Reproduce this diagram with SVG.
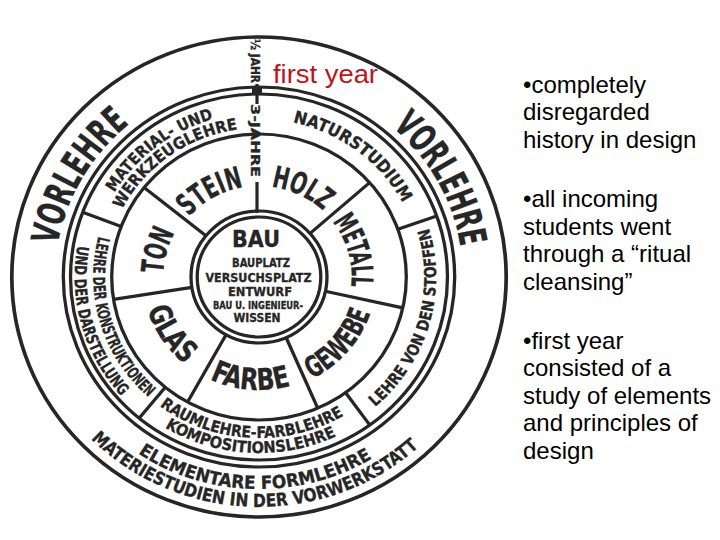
<svg xmlns="http://www.w3.org/2000/svg" width="720" height="540" viewBox="0 0 720 540">
<style>
.ln{fill:none;stroke:#262626;stroke-width:3.2}
.w{font-family:"DejaVu Sans Condensed","DejaVu Sans",sans-serif;font-weight:bold;fill:#262626;stroke:#262626;stroke-width:0.3;text-anchor:middle}
.big{font-size:37px}
.ws{font-size:30px}
.sm{font-size:16px}
.md{font-size:18px}
.note{font-family:"Liberation Sans",Arial,sans-serif;font-size:24px;fill:#000}
</style>
<defs>
<path id="t198" d="M -198 0 A 198 198 0 0 1 198 0"/>
<path id="t164" d="M -164 0 A 164 164 0 0 1 164 0"/>
<path id="t149" d="M -149 0 A 149 149 0 0 1 149 0"/>
<path id="t158" d="M -158 0 A 158 158 0 0 1 158 0"/>
<path id="t91" d="M -91 0 A 91 91 0 0 1 91 0"/>
<path id="t90" d="M -90 0 A 90 90 0 0 1 90 0"/>
<path id="t93" d="M -93 0 A 93 93 0 0 1 93 0"/>
<path id="b230" d="M -230 0 A 230 230 0 0 0 230 0"/>
<path id="b212" d="M -212 0 A 212 212 0 0 0 212 0"/>
<path id="b179" d="M -179 0 A 179 179 0 0 0 179 0"/>
<path id="b161" d="M -161 0 A 161 161 0 0 0 161 0"/>
<path id="b172" d="M -172 0 A 172 172 0 0 0 172 0"/>
<path id="b176" d="M -176 0 A 176 176 0 0 0 176 0"/>
<path id="b114" d="M -114 0 A 114 114 0 0 0 114 0"/>
<path id="b113" d="M -113 0 A 113 113 0 0 0 113 0"/>
</defs>
<rect width="720" height="540" fill="#fff"/>
<g id="wheel" transform="translate(259,277) scale(1.03,1)">
  <g id="rings">
    <circle class="ln" r="240" style="stroke-width:3.6"/>
    <circle class="ln" r="190"/>
    <circle class="ln" r="183"/>
    <circle class="ln" r="143"/>
    <circle class="ln" r="66"/>
    <circle class="ln" r="60"/>
  </g>
  <g id="connectors" class="ln">
    <line x1="-133.8" y1="-50.5" x2="-171.2" y2="-64.7"/>
    <line x1="134.8" y1="-47.7" x2="172.5" y2="-61.1"/>
    <line x1="-91.0" y1="110.3" x2="-116.4" y2="141.2"/>
    <line x1="84.1" y1="115.7" x2="107.6" y2="148.1"/>
    <line x1="-51.5" y1="-41.3" x2="-111.6" y2="-89.4"/>
    <line x1="-65.2" y1="10.3" x2="-141.2" y2="22.4"/>
    <line x1="-32.0" y1="57.7" x2="-69.3" y2="125.1"/>
    <line x1="26.3" y1="60.5" x2="57.0" y2="131.1"/>
    <line x1="64.4" y1="14.3" x2="139.6" y2="30.9"/>
    <line x1="49.6" y1="-43.6" x2="107.4" y2="-94.4"/>
  </g>
  <g id="vorlehre">
    <text class="w big" transform="rotate(300)"><textPath href="#t198" startOffset="50%" textLength="143" lengthAdjust="spacingAndGlyphs">VORLEHRE</textPath></text>
    <text class="w big" transform="rotate(61)"><textPath href="#t198" startOffset="50%" textLength="140" lengthAdjust="spacingAndGlyphs">VORLEHRE</textPath></text>
    <text class="w md" transform="rotate(1.2)"><textPath href="#b212" startOffset="50%" textLength="240" lengthAdjust="spacingAndGlyphs">ELEMENTARE FORMLEHRE</textPath></text>
    <text class="w md" transform="rotate(1.4)"><textPath href="#b230" startOffset="50%" textLength="352" lengthAdjust="spacingAndGlyphs">MATERIESTUDIEN IN DER VORWERKSTATT</textPath></text>
  </g>
  <g id="material">
    <text class="w sm" transform="rotate(322.7)"><textPath href="#t164" startOffset="50%" textLength="124" lengthAdjust="spacingAndGlyphs">MATERIAL- UND</textPath></text>
    <text class="w sm" transform="rotate(324.5)"><textPath href="#t149" startOffset="50%" textLength="143" lengthAdjust="spacingAndGlyphs">WERKZEUGLEHRE</textPath></text>
  </g>
  <g id="natur">
    <text class="w" style="font-size:17px" transform="rotate(37)"><textPath href="#t158" startOffset="50%" textLength="138" lengthAdjust="spacingAndGlyphs">NATURSTUDIUM</textPath></text>
  </g>
  <g id="konstruktion">
    <text class="w sm" transform="rotate(74.2)"><textPath href="#b179" startOffset="50%" textLength="162" lengthAdjust="spacingAndGlyphs">UND DER DARSTELLUNG</textPath></text>
    <text class="w sm" transform="rotate(73.2)"><textPath href="#b161" startOffset="50%" textLength="177" lengthAdjust="spacingAndGlyphs">LEHRE DER KONSTRUKTIONEN</textPath></text>
  </g>
  <g id="stoffe">
    <text class="w sm" transform="rotate(-73.75)"><textPath href="#b172" startOffset="50%" textLength="197" lengthAdjust="spacingAndGlyphs">LEHRE VON DEN STOFFEN</textPath></text>
  </g>
  <g id="raumlehre">
    <text class="w sm" transform="rotate(3)"><textPath href="#b161" startOffset="50%" textLength="190" lengthAdjust="spacingAndGlyphs">RAUMLEHRE-FARBLEHRE</textPath></text>
    <text class="w sm" transform="rotate(3)"><textPath href="#b176" startOffset="50%" textLength="174" lengthAdjust="spacingAndGlyphs">KOMPOSITIONSLEHRE</textPath></text>
  </g>
  <g id="stein"><text class="w ws" transform="rotate(331)"><textPath href="#t91" startOffset="50%" textLength="62" lengthAdjust="spacingAndGlyphs">STEIN</textPath></text></g>
  <g id="holz"><text class="w ws" transform="rotate(25.4)"><textPath href="#t91" startOffset="50%" textLength="57" lengthAdjust="spacingAndGlyphs">HOLZ</textPath></text></g>
  <g id="metall"><text class="w" style="font-size:29px" transform="rotate(74)"><textPath href="#t90" startOffset="50%" textLength="69" lengthAdjust="spacingAndGlyphs">METALL</textPath></text></g>
  <g id="gewebe"><text class="w" style="font-size:29px" transform="rotate(-49.25)"><textPath href="#b114" startOffset="50%" textLength="89" lengthAdjust="spacingAndGlyphs">GEWEBE</textPath></text></g>
  <g id="farbe"><text class="w ws" transform="rotate(4.6)"><textPath href="#b113" startOffset="50%" textLength="81" lengthAdjust="spacingAndGlyphs">FARBE</textPath></text></g>
  <g id="glas"><text class="w ws" transform="rotate(56.4)"><textPath href="#b113" startOffset="50%" textLength="67" lengthAdjust="spacingAndGlyphs">GLAS</textPath></text></g>
  <g id="ton"><text class="w ws" transform="rotate(285.3)"><textPath href="#t93" startOffset="50%" textLength="43" lengthAdjust="spacingAndGlyphs">TON</textPath></text></g>
</g>
<g id="years">
  <line class="ln" x1="257" y1="84" x2="257" y2="104"/>
  <rect x="252" y="86" width="10" height="8" fill="#262626"/>
  <line class="ln" x1="257" y1="182" x2="257" y2="213"/>
  <text class="w" style="font-size:12px;text-anchor:start" transform="translate(251,39) rotate(90)" textLength="44" lengthAdjust="spacingAndGlyphs">½ JAHR</text>
  <text class="w" style="font-size:13px;text-anchor:start" transform="translate(251,104) rotate(90)" textLength="73" lengthAdjust="spacingAndGlyphs">3-JAHRE</text>
</g>
<g id="bau">
  <text class="w" x="256" y="247" style="font-size:23px" textLength="48" lengthAdjust="spacingAndGlyphs">BAU</text>
  <text class="w" x="261" y="267" style="font-size:12px" textLength="58" lengthAdjust="spacingAndGlyphs">BAUPLATZ</text>
  <text class="w" x="258.5" y="282" style="font-size:12px" textLength="106" lengthAdjust="spacingAndGlyphs">VERSUCHSPLATZ</text>
  <text class="w" x="260" y="295.5" style="font-size:12.5px" textLength="64" lengthAdjust="spacingAndGlyphs">ENTWURF</text>
  <text class="w" x="258" y="308.5" style="font-size:10.5px" textLength="90" lengthAdjust="spacingAndGlyphs">BAU U. INGENIEUR-</text>
  <text class="w" x="257" y="322" style="font-size:11.5px" textLength="47" lengthAdjust="spacingAndGlyphs">WISSEN</text>
</g>
<g id="label-first-year">
  <text x="273" y="83" style="font-family:'Liberation Sans',Arial,sans-serif;font-size:25px;fill:#c0121c" textLength="105" lengthAdjust="spacingAndGlyphs">first year</text>
</g>
<g id="notes" class="note">
  <text x="523" y="93">•completely</text>
  <text x="523" y="120">disregarded</text>
  <text x="523" y="147.5">history in design</text>
  <text x="523" y="207">•all incoming</text>
  <text x="523" y="234.5">students went</text>
  <text x="523" y="262">through a “ritual</text>
  <text x="523" y="289.5">cleansing”</text>
  <text x="523" y="348.5">•first year</text>
  <text x="523" y="376">consisted of a</text>
  <text x="523" y="403.5">study of elements</text>
  <text x="523" y="431">and principles of</text>
  <text x="523" y="458.5">design</text>
</g>
</svg>
